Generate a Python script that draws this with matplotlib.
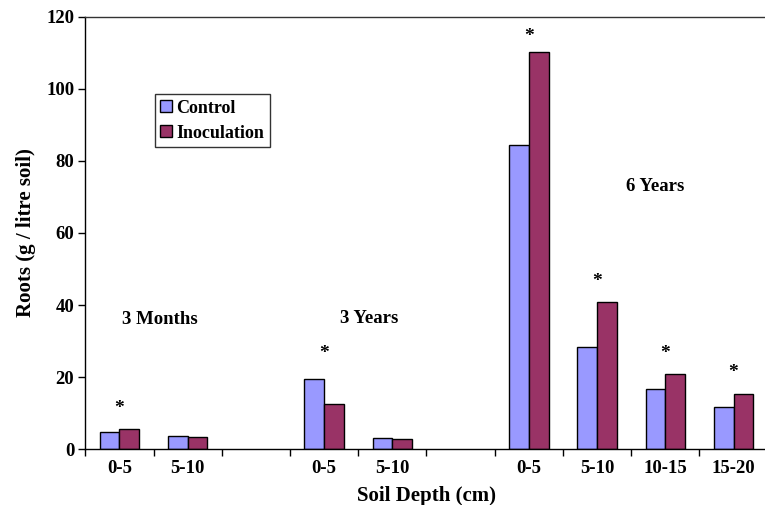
import numpy as np
import matplotlib.pyplot as plt

# slot positions along the depth axis (empty slots separate the age groups)
slots = [0, 1, 3, 4, 6, 7, 8, 9]
depths = ["0-5", "5-10", "0-5", "5-10", "0-5", "5-10", "10-15", "15-20"]
control = [4.8, 3.6, 19.5, 3.0, 84.4, 28.5, 16.7, 11.6]
inoculation = [5.5, 3.4, 12.7, 2.8, 110.3, 40.8, 21.0, 15.3]
significant = [True, False, True, False, True, True, True, True]
star_height = [11.3, 0, 26.6, 0, 114.6, 46.5, 26.6, 21.2]

groups = ["3 Months", "3 Years", "6 Years"]
group_x = [0.59, 3.66, 7.85]
group_y = [36.1, 36.3, 72.8]

plt.rcParams["font.family"] = ["Liberation Serif", "DejaVu Serif"]
plt.rcParams["font.weight"] = "bold"

fig = plt.figure(figsize=(7.65, 5.05), dpi=100)
ax = fig.add_axes([0.1115, 0.1103, 0.892, 0.8567])

w = 0.289
x = np.array(slots)
ax.bar(x - w / 2, control, w, color="#9999FF", edgecolor="black", linewidth=1, label="Control")
ax.bar(x + w / 2, inoculation, w, color="#993366", edgecolor="black", linewidth=1, label="Inoculation")

for xi, sig, h in zip(slots, significant, star_height):
    if sig:
        ax.text(xi, h, "*", ha="center", va="center", fontsize=14, fontweight="bold")

for name, gx, gy in zip(groups, group_x, group_y):
    ax.text(gx, gy, name, ha="center", va="center", fontsize=13.5, fontweight="bold")

ax.set_xlim(-0.5, 9.5)
ax.set_ylim(0, 120)
ax.set_yticks(range(0, 121, 20))
ax.set_xticks(slots)
ax.set_xticklabels(depths)
ax.set_xticks(np.arange(-0.5, 10, 1), minor=True)
ax.tick_params(axis="x", which="major", length=0, pad=8, labelsize=13.5)
ax.tick_params(axis="x", which="minor", length=5, width=1, direction="out")
ax.tick_params(axis="y", length=5, width=1, direction="out", pad=3, labelsize=13.5)
for lab in ax.get_xticklabels() + ax.get_yticklabels():
    lab.set_fontweight("bold")

ax.spines["right"].set_visible(False)
for s in ["left", "bottom", "top"]:
    ax.spines[s].set_linewidth(1)
ax.spines["top"].set_color("#333333")

ax.set_xlabel("Soil Depth (cm)", fontsize=15, fontweight="bold", labelpad=6)
ax.set_ylabel("Roots (g / litre soil)", fontsize=15, fontweight="bold", labelpad=7)

leg = ax.legend(loc="upper left", bbox_to_anchor=(0.102, 0.821), borderaxespad=0,
                fontsize=13, frameon=True, fancybox=False, edgecolor="black",
                borderpad=0.3, handlelength=0.65, handleheight=0.65,
                handletextpad=0.25, labelspacing=0.45)
leg.get_frame().set_linewidth(1)
for t in leg.get_texts():
    t.set_fontweight("bold")

fig.savefig("out.png", dpi=100)
